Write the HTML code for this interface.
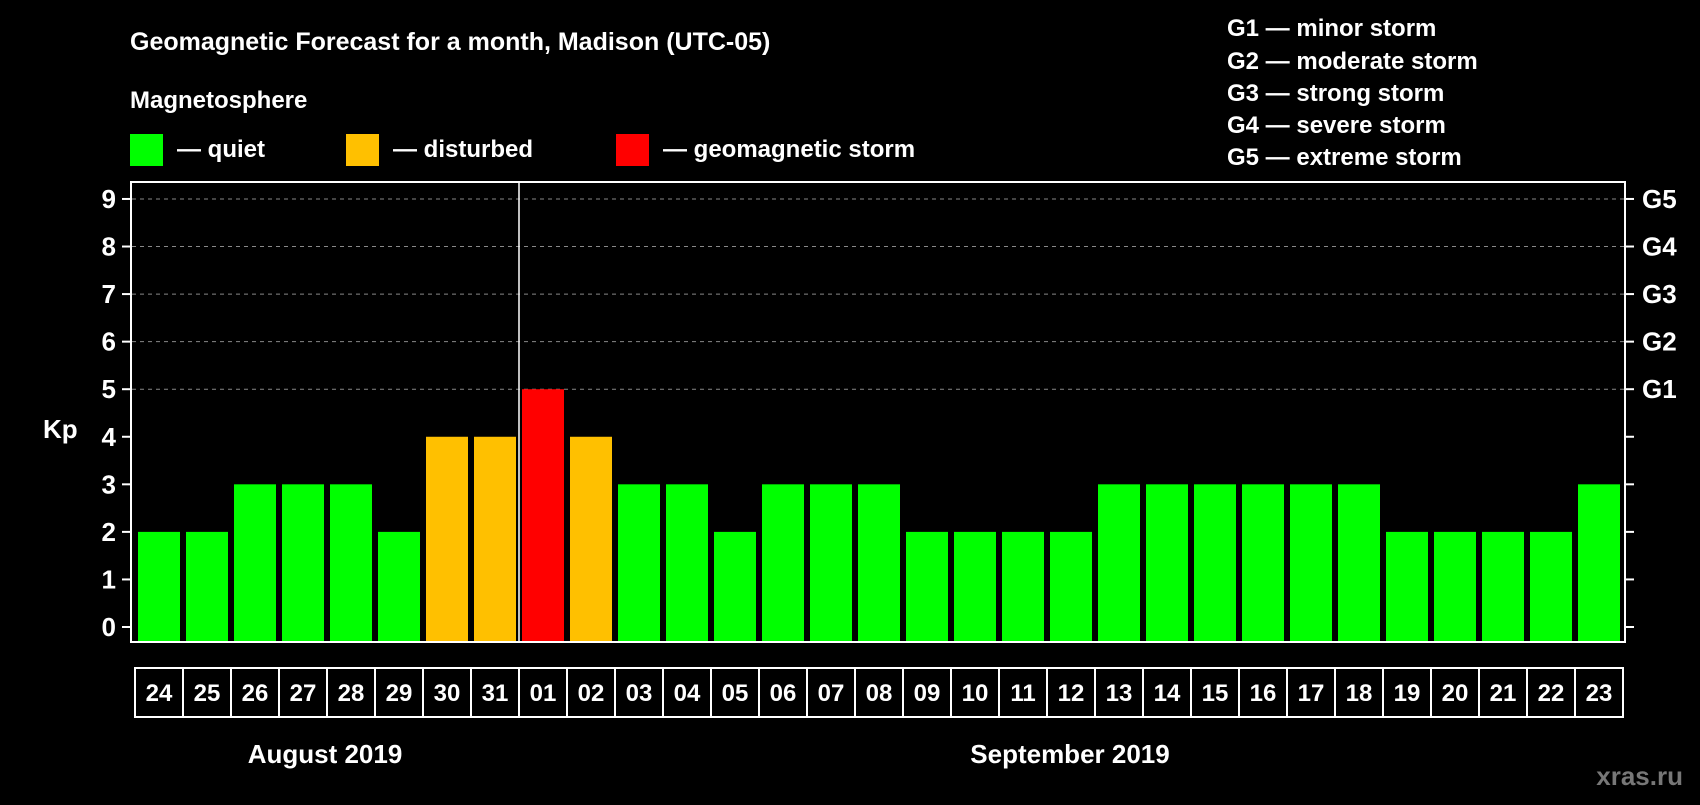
<!DOCTYPE html>
<html><head><meta charset="utf-8"><style>
body{margin:0;background:#000;width:1700px;height:800px;overflow:hidden}
svg text{font-family:"Liberation Sans",sans-serif;font-weight:bold;fill:#fff}
</style></head><body>
<svg id="c" width="1700" height="800">
<text x="130" y="50" font-size="25">Geomagnetic Forecast for a month, Madison (UTC-05)</text>
<text x="130" y="108" font-size="24">Magnetosphere</text>
<rect x="130" y="134" width="33" height="32" fill="#00ff00"/>
<text x="177" y="157" font-size="24">— quiet</text>
<rect x="346" y="134" width="33" height="32" fill="#ffc000"/>
<text x="393" y="157" font-size="24">— disturbed</text>
<rect x="616" y="134" width="33" height="32" fill="#ff0000"/>
<text x="663" y="157" font-size="24">— geomagnetic storm</text>
<g font-size="24">
<text x="1227" y="36">G1 — minor storm</text>
<text x="1227" y="69">G2 — moderate storm</text>
<text x="1227" y="101">G3 — strong storm</text>
<text x="1227" y="133">G4 — severe storm</text>
<text x="1227" y="165">G5 — extreme storm</text>
</g>
<text x="43" y="438" font-size="26">Kp</text>
<text x="325" y="763" font-size="26" text-anchor="middle">August 2019</text>
<text x="1070" y="763" font-size="26" text-anchor="middle">September 2019</text>
<text x="1683" y="785" font-size="26" text-anchor="end" style="fill:#777">xras.ru</text>
<g id="plot"></g>
</svg>
<script>
const days=["24","25","26","27","28","29","30","31","01","02","03","04","05","06","07","08","09","10","11","12","13","14","15","16","17","18","19","20","21","22","23"];
const kp=[2,2,3,3,3,2,4,4,5,4,3,3,2,3,3,3,2,2,2,2,3,3,3,3,3,3,2,2,2,2,3];
const yTicks=[0,1,2,3,4,5,6,7,8,9];
const gLabels=["G1","G2","G3","G4","G5"];
const gLevels=[5,6,7,8,9];
const NS="http://www.w3.org/2000/svg";
const g=document.getElementById('plot');
const x0=135,slot=48,yTop=182,yBot=642;
const y=v=>627-47.56*v;
const xs=i=>x0+slot*i;
function mk(t,a){const e=document.createElementNS(NS,t);for(const k in a)e.setAttribute(k,a[k]);g.appendChild(e);return e;}
gLevels.forEach(v=>{const e=mk('line',{x1:132,x2:1624,y1:y(v),y2:y(v),stroke:'#888','stroke-dasharray':'4,4','stroke-width':1});

});
kp.forEach((v,i)=>{const c=v>=5?'#ff0000':v>=4?'#ffc000':'#00ff00';
const r=mk('rect',{x:xs(i)+3,y:y(v),width:42,height:yBot-y(v),fill:c});

});
const vl=mk('line',{x1:xs(8),x2:xs(8),y1:yTop,y2:yBot,stroke:'#fff','stroke-width':1.5});


const fr=mk('rect',{x:131,y:yTop,width:1494,height:yBot-yTop,fill:'none',stroke:'#fff','stroke-width':2});


yTicks.forEach(v=>{
const t=mk('line',{x1:122,x2:131,y1:y(v),y2:y(v),stroke:'#fff','stroke-width':2});


const t2=mk('line',{x1:1625,x2:1634,y1:y(v),y2:y(v),stroke:'#fff','stroke-width':2});


const l=mk('text',{x:116,y:y(v)+9,'font-size':26,'text-anchor':'end'});l.textContent=v;

});
gLevels.forEach((v,i)=>{const l=mk('text',{x:1642,y:y(v)+9,'font-size':26});l.textContent=gLabels[i];

});
days.forEach((d,i)=>{const b=mk('rect',{x:xs(i),y:668,width:slot,height:49,fill:'#000',stroke:'#fff','stroke-width':2});


const t=mk('text',{x:xs(i)+slot/2,y:701,'font-size':24,'text-anchor':'middle'});t.textContent=d;

});
</script>
</body></html>
